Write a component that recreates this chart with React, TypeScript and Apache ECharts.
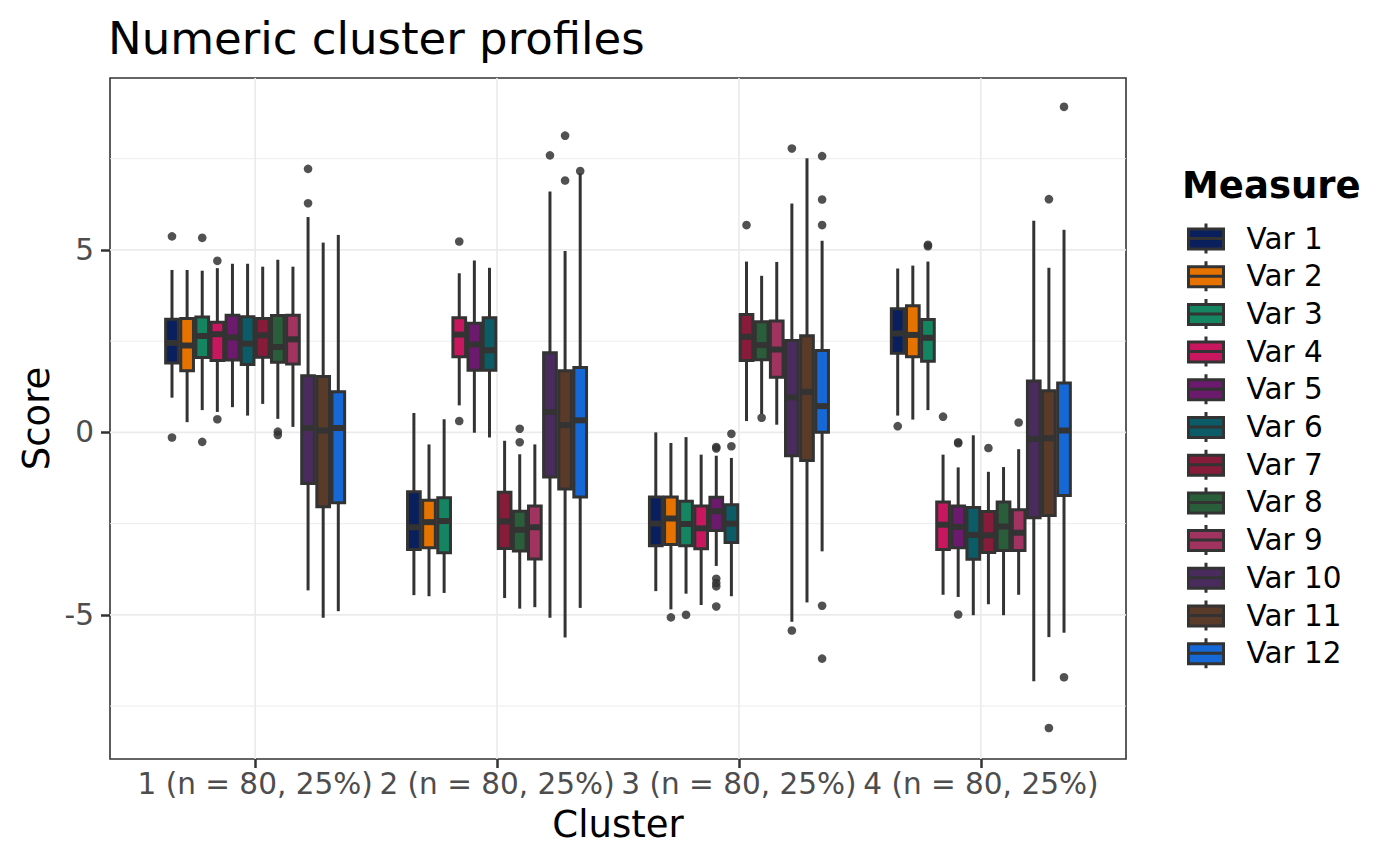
import React, { useEffect, useRef } from "react";
import * as echarts from "echarts";

const FONT = "DejaVu Sans";

const clusterLabels = ["1 (n = 80, 25%)", "2 (n = 80, 25%)", "3 (n = 80, 25%)", "4 (n = 80, 25%)"];
const clusterPositions = [1, 2, 3, 4];
const measureNames = ["Var 1", "Var 2", "Var 3", "Var 4", "Var 5", "Var 6", "Var 7", "Var 8", "Var 9", "Var 10", "Var 11", "Var 12"];
const measureColors = ["#0A1F5E", "#E67300", "#148461", "#C8175E", "#6B1A6E", "#0B5C66", "#861B3A", "#2A5E3A", "#A0335F", "#4A2B5E", "#5A3A28", "#1668D6"];
const yTicks = [-5, 0, 5];
const yMinorLines = [-7.5, -2.5, 2.5, 7.5];
const yRange = [-8.95, 9.71];
const xRange = [0.4, 4.6];

// [min, q1, median, q3, max] for clusters 1..4
const var1Box = [[0.95, 1.9, 2.45, 3.1, 4.45], [-4.46, -3.21, -2.6, -1.63, 0.53], [-4.35, -3.11, -2.5, -1.77, 0.0], [0.46, 2.17, 2.71, 3.39, 4.49]];
const var2Box = [[0.28, 1.69, 2.38, 3.12, 4.45], [-4.49, -3.16, -2.46, -1.86, -0.33], [-4.85, -3.07, -2.36, -1.77, -0.29], [0.35, 2.07, 2.67, 3.47, 4.57]];
const var3Box = [[0.61, 2.05, 2.64, 3.16, 4.43], [-4.4, -3.3, -2.43, -1.79, 0.36], [-4.42, -3.11, -2.51, -1.89, -0.13], [0.61, 1.95, 2.59, 3.09, 4.68]];
const var4Box = [[0.56, 1.97, 2.69, 3.02, 4.5], [0.74, 2.07, 2.68, 3.14, 4.36], [-4.73, -3.19, -2.63, -2.02, -0.61], [-4.45, -3.21, -2.53, -1.91, -0.61]];
const var5Box = [[0.69, 1.98, 2.6, 3.21, 4.62], [-0.01, 1.7, 2.41, 2.99, 4.71], [-3.66, -2.69, -2.16, -1.78, -0.64], [-4.51, -3.16, -2.59, -2.02, -0.96]];
const var6Box = [[0.46, 1.86, 2.43, 3.17, 4.62], [-0.14, 1.7, 2.25, 3.14, 4.51], [-4.49, -3.02, -2.5, -1.98, -0.7], [-5.01, -3.48, -2.81, -2.06, -0.08]];
const var7Box = [[0.78, 2.06, 2.66, 3.12, 4.54], [-4.54, -3.18, -2.44, -1.64, -0.23], [0.31, 1.97, 2.62, 3.23, 4.68], [-4.71, -3.29, -2.82, -2.17, -1.08]];
const var8Box = [[0.37, 1.92, 2.34, 3.2, 4.73], [-4.83, -3.25, -2.67, -2.16, -0.6], [0.5, 1.99, 2.39, 3.03, 4.29], [-5.01, -3.24, -2.58, -1.91, -0.95]];
const var9Box = [[0.15, 1.87, 2.55, 3.21, 4.54], [-4.79, -3.47, -2.6, -2.02, -0.33], [0.21, 1.51, 2.27, 3.05, 4.67], [-4.45, -3.24, -2.75, -2.12, -0.46]];
const var10Box = [[-4.33, -1.4, 0.12, 1.55, 5.9], [-5.08, -1.22, 0.56, 2.18, 6.6], [-5.19, -0.64, 0.96, 2.52, 6.27], [-6.82, -2.34, -0.18, 1.41, 5.8]];
const var11Box = [[-5.08, -2.04, 0.05, 1.53, 5.2], [-5.62, -1.55, 0.2, 1.69, 4.97], [-4.66, -0.77, 1.11, 2.65, 7.51], [-5.61, -2.28, -0.16, 1.14, 4.51]];
const var12Box = [[-4.9, -1.93, 0.12, 1.11, 5.41], [-4.81, -1.77, 0.33, 1.78, 7.1], [-3.26, 0.0, 0.72, 2.24, 5.25], [-5.49, -1.73, 0.05, 1.35, 5.55]];

// outliers for clusters 1..4
const var1Out = [[5.37, -0.14], [], [], [0.17]];
const var2Out = [[], [], [-5.07], []];
const var3Out = [[5.33, -0.26], [], [-5.0], [5.14, 5.1]];
const var4Out = [[4.7, 0.36], [5.23, 0.31], [], [0.43]];
const var5Out = [[], [], [-0.4, -0.44, -4.01, -4.13, -4.22, -4.77], [-0.27, -0.3, -4.99]];
const var6Out = [[], [], [-0.04, -0.38], []];
const var7Out = [[], [], [5.68], [-0.43]];
const var8Out = [[0.02, -0.07], [0.1, -0.27], [0.4], []];
const var9Out = [[], [], [], [0.27]];
const var10Out = [[7.22, 6.28], [7.59], [7.78, -5.43], []];
const var11Out = [[], [8.13, 6.9], [], [6.39, -8.1]];
const var12Out = [[], [7.16], [7.57, 6.38, 5.68, -4.75, -6.2], [8.92, -6.71]];

const boxStats = [var1Box, var2Box, var3Box, var4Box, var5Box, var6Box, var7Box, var8Box, var9Box, var10Box, var11Box, var12Box];
const outlierStats = [var1Out, var2Out, var3Out, var4Out, var5Out, var6Out, var7Out, var8Out, var9Out, var10Out, var11Out, var12Out];

const SLOT = 0.75 / 12;
const BOX_FRAC = 0.84;
const EDGE = "#333333";
const GRID_COLOR = "#ebebeb";
const LEGEND_ICON = "path://M17.5 0L17.5 5.5M0 5.5L35 5.5L35 25.5L0 25.5ZM17.5 25.5L17.5 30M0 15L35 15";

function boxSeries(i: number) {
  const color = measureColors[i];
  return {
    type: "custom",
    name: measureNames[i],
    z: 3,
    data: boxStats[i].map((s, ci) => [clusterPositions[ci], s[0], s[1], s[2], s[3], s[4]]),
    encode: { x: 0, y: [1, 2, 3, 4, 5] },
    renderItem: (params: any, api: any) => {
      const x = api.value(0);
      const slotPx = api.size([SLOT, 0])[0];
      const off = (i - 5.5) * slotPx;
      const w = slotPx * BOX_FRAC;
      const pMin = api.coord([x, api.value(1)]);
      const pQ1 = api.coord([x, api.value(2)]);
      const pMed = api.coord([x, api.value(3)]);
      const pQ3 = api.coord([x, api.value(4)]);
      const pMax = api.coord([x, api.value(5)]);
      const cx = pMed[0] + off;
      const outs = outlierStats[i][params.dataIndex] || [];
      const children: any[] = [
        { type: "line", shape: { x1: cx, y1: pMax[1], x2: cx, y2: pQ3[1] }, style: { stroke: EDGE, lineWidth: 3 } },
        { type: "line", shape: { x1: cx, y1: pQ1[1], x2: cx, y2: pMin[1] }, style: { stroke: EDGE, lineWidth: 3 } },
        { type: "rect", shape: { x: cx - w / 2, y: pQ3[1], width: w, height: pQ1[1] - pQ3[1] }, style: { fill: color, stroke: EDGE, lineWidth: 3 } },
        { type: "line", shape: { x1: cx - w / 2, y1: pMed[1], x2: cx + w / 2, y2: pMed[1] }, style: { stroke: EDGE, lineWidth: 6 } },
      ];
      outs.forEach((o: number) => {
        const p = api.coord([x, o]);
        children.push({ type: "circle", shape: { cx, cy: p[1], r: 4.3 }, style: { fill: "rgba(51,51,51,0.85)" } });
      });
      return { type: "group", children };
    },
  };
}

function hGridSeries(values: number[], width: number, name: string) {
  return {
    type: "custom",
    name,
    silent: true,
    z: 1,
    data: values.map((v) => [xRange[0], v]),
    encode: { x: 0, y: 1 },
    renderItem: (params: any, api: any) => {
      const cs = params.coordSys;
      const p = api.coord([api.value(0), api.value(1)]);
      return {
        type: "line",
        shape: { x1: cs.x, y1: p[1], x2: cs.x + cs.width, y2: p[1] },
        style: { stroke: GRID_COLOR, lineWidth: width },
      };
    },
  };
}

function vGridSeries(values: number[], width: number, name: string) {
  return {
    type: "custom",
    name,
    silent: true,
    z: 1,
    data: values.map((v) => [v, yRange[0]]),
    encode: { x: 0, y: 1 },
    renderItem: (params: any, api: any) => {
      const cs = params.coordSys;
      const p = api.coord([api.value(0), api.value(1)]);
      return {
        type: "line",
        shape: { x1: p[0], y1: cs.y, x2: p[0], y2: cs.y + cs.height },
        style: { stroke: GRID_COLOR, lineWidth: width },
      };
    },
  };
}

export default function App() {
  const ref = useRef<HTMLDivElement>(null);
  useEffect(() => {
    if (!ref.current) return;
    const chart = echarts.init(ref.current, null, { renderer: "svg" });
    const option: any = {
      animation: false,
      backgroundColor: "#ffffff",
      title: [
        {
          text: "Numeric cluster profiles",
          left: 108,
          top: 16,
          padding: 0,
          textStyle: { fontFamily: FONT, fontSize: 45, fontWeight: "normal", color: "#000000", lineHeight: 45 },
        },
        {
          text: "Measure",
          left: 1182,
          top: 167,
          padding: 0,
          textStyle: { fontFamily: FONT, fontSize: 37, fontWeight: "bold", color: "#000000", lineHeight: 37 },
        },
      ],
      legend: {
        orient: "vertical",
        left: 1187,
        top: 222,
        padding: 0,
        itemWidth: 35,
        itemHeight: 30,
        itemGap: 4.7,
        selectedMode: false,
        textStyle: { fontFamily: FONT, fontSize: 29.5, color: "#000000", lineHeight: 30, padding: [0, 0, 0, 18] },
        data: measureNames.map((n, i) => ({
          name: n,
          icon: LEGEND_ICON,
          itemStyle: { color: measureColors[i], borderColor: EDGE, borderWidth: 3 },
        })),
      },
      grid: {
        left: 110,
        right: 274,
        top: 78,
        bottom: 107,
        containLabel: false,
        outerBoundsMode: "none",
        show: true,
        backgroundColor: "#ffffff",
        borderColor: EDGE,
        borderWidth: 1.6,
      },
      xAxis: {
        type: "value",
        min: xRange[0],
        max: xRange[1],
        name: "Cluster",
        nameLocation: "middle",
        nameGap: 47,
        nameMoveOverlap: false,
        nameTextStyle: { fontFamily: FONT, fontSize: 37, color: "#000000" },
        axisLine: { show: false, onZero: false },
        splitLine: { show: false },
        axisTick: { show: true, customValues: clusterPositions, length: 9, lineStyle: { color: EDGE, width: 2.5 } },
        axisLabel: {
          show: true,
          customValues: clusterPositions,
          margin: 10,
          hideOverlap: false,
          fontFamily: FONT,
          fontSize: 29.5,
          color: "#4d4d4d",
          formatter: (v: number) => clusterLabels[Math.round(v) - 1] || "",
        },
      },
      yAxis: {
        type: "value",
        min: yRange[0],
        max: yRange[1],
        name: "Score",
        nameLocation: "middle",
        nameGap: 55,
        nameMoveOverlap: false,
        nameTextStyle: { fontFamily: FONT, fontSize: 37, color: "#000000" },
        axisLine: { show: false, onZero: false },
        splitLine: { show: false },
        axisTick: { show: true, customValues: yTicks, length: 9, lineStyle: { color: EDGE, width: 2.5 } },
        axisLabel: {
          show: true,
          customValues: yTicks,
          margin: 16,
          fontFamily: FONT,
          fontSize: 29.5,
          color: "#4d4d4d",
        },
      },
      series: [
        hGridSeries(yMinorLines, 0.9, "minorGrid"),
        hGridSeries(yTicks, 1.7, "majorGrid"),
        vGridSeries(clusterPositions, 1.7, "xGrid"),
        ...measureNames.map((_, i) => boxSeries(i)),
      ],
    };
    chart.setOption(option);
    return () => chart.dispose();
  }, []);
  return <div ref={ref} style={{ position: "fixed", left: 0, top: 0, width: 1400, height: 866 }} />;
}
